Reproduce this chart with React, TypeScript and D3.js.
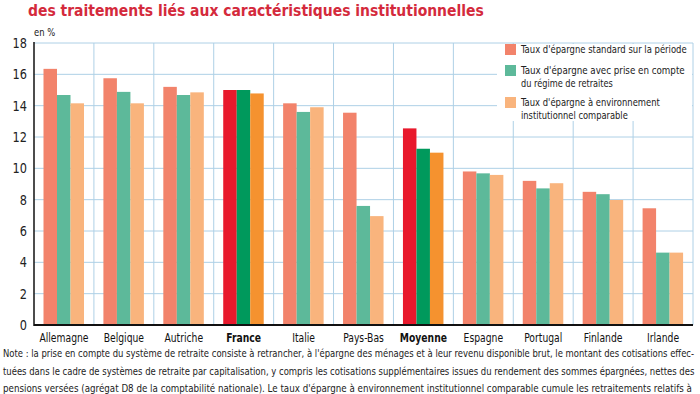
import React from "react";
import * as d3 from "d3";

const categories = ["Allemagne", "Belgique", "Autriche", "France", "Italie", "Pays-Bas", "Moyenne", "Espagne", "Portugal", "Finlande", "Irlande"];
const highlighted = ["France", "Moyenne"];
const seriesNames = [
  ["Taux d'épargne standard sur la période"],
  ["Taux d'épargne avec prise en compte", "du régime de retraites"],
  ["Taux d'épargne à environnement", "institutionnel comparable"],
];
const standard = [16.35, 15.75, 15.2, 15.0, 14.15, 13.55, 12.55, 9.8, 9.2, 8.5, 7.45];
const retraites = [14.68, 14.88, 14.68, 15.0, 13.6, 7.6, 11.25, 9.68, 8.72, 8.35, 4.62];
const comparable = [14.15, 14.15, 14.85, 14.78, 13.9, 6.95, 11.0, 9.58, 9.05, 7.98, 4.62];
const yTicks = [0, 2, 4, 6, 8, 10, 12, 14, 16, 18];
const title = "des traitements liés aux caractéristiques institutionnelles";
const noteLines = [
  "Note : la prise en compte du système de retraite consiste à retrancher, à l'épargne des ménages et à leur revenu disponible brut, le montant des cotisations effec-",
  "tuées dans le cadre de systèmes de retraite par capitalisation, y compris les cotisations supplémentaires issues du rendement des sommes épargnées, nettes des",
  "pensions versées (agrégat D8 de la comptabilité nationale). Le taux d'épargne à environnement institutionnel comparable cumule les retraitements relatifs à",
];

const normalColors = ["#F2836B", "#5DB99A", "#F9B47D"];
const highColors = ["#E8192C", "#00995C", "#F5922F"];
const gridColor = "#AED0E6";
const narrow = "'DejaVu Sans Condensed', 'Liberation Sans Narrow', sans-serif";

let ctx: CanvasRenderingContext2D | null = null;
function measure(text: string, size: number, bold = false): number {
  if (!ctx) ctx = document.createElement("canvas").getContext("2d");
  if (!ctx) return text.length * size * 0.5;
  ctx.font = `${bold ? "bold " : ""}${size}px 'DejaVu Sans Condensed', sans-serif`;
  return ctx.measureText(text).width;
}

function NText(props: { x: number; y: number; sx?: number; fit?: number; anchor?: string; size: number; bold?: boolean; children: string; fill?: string }) {
  const sx = props.fit ? props.fit / measure(props.children, props.size, props.bold) : props.sx || 1;
  return (
    <text
      transform={`translate(${props.x},${props.y}) scale(${sx},1)`}
      textAnchor={props.anchor || "start"}
      fontFamily={narrow}
      fontSize={props.size}
      fontWeight={props.bold ? "bold" : "normal"}
      fill={props.fill || "#222"}
    >
      {props.children}
    </text>
  );
}

export default function App() {
  const W = 700, H = 394;
  const left = 34, right = 693, top = 43, bottom = 325;
  const x = d3.scaleBand<string>().domain(categories).range([left, right]).padding(0);
  const inner = d3.scaleBand<number>().domain([0, 1, 2]).range([9.5, 50]).padding(0);
  const y = d3.scaleLinear().domain([0, 18]).range([bottom, top]);
  const series = [standard, retraites, comparable];
  const boundaries = d3.range(1, categories.length + 1).map((i) => left + i * x.step());
  const legendLens = [[166], [164, 92], [139, 107]];

  return (
    <svg width={W} height={H} style={{ position: "absolute", left: 0, top: 0, background: "#fff" }}>
      <rect x={0} y={0} width={W} height={H} fill="#fff" />
      <NText x={28} y={16} fit={456} size={16} bold fill="#D42A3C">{title}</NText>
      <NText x={34} y={36} sx={0.85} size={11}>en %</NText>
      {/* grid */}
      {yTicks.map((t) => (
        <line key={"h" + t} x1={left} x2={right} y1={y(t)} y2={y(t)} stroke={gridColor} strokeWidth={1} />
      ))}
      {boundaries.map((b, i) => (
        <line key={"v" + i} x1={b} x2={b} y1={top} y2={bottom} stroke={gridColor} strokeWidth={1} />
      ))}
      {/* bars */}
      {categories.map((c, ci) => {
        const hi = highlighted.includes(c);
        return series.map((s, si) => (
          <rect
            key={c + si}
            x={(x(c) as number) + (inner(si) as number)}
            y={y(s[ci])}
            width={inner.bandwidth()}
            height={bottom - y(s[ci])}
            fill={hi ? highColors[si] : normalColors[si]}
          />
        ));
      })}
      {/* axes */}
      <line x1={left} x2={left} y1={top - 1} y2={bottom + 1} stroke="#111" strokeWidth={1.5} />
      <line x1={left} x2={right} y1={bottom} y2={bottom} stroke="#111" strokeWidth={2} />
      {yTicks.map((t) => (
        <NText key={"yt" + t} x={27} y={y(t) + 5} sx={0.9} anchor="end" size={14}>{String(t)}</NText>
      ))}
      {categories.map((c) => (
        <NText key={"xl" + c} x={(x(c) as number) + x.bandwidth() / 2} y={342} sx={0.82} anchor="middle" size={12.5} bold={highlighted.includes(c)} fill="#111">{c}</NText>
      ))}
      {/* legend */}
      <rect x={497} y={44} width={195} height={77} fill="#fff" />
      {seriesNames.map((lines, i) => {
        const sy = [44, 65, 97][i];
        return (
          <g key={"lg" + i}>
            <rect x={505} y={sy} width={11} height={11} fill={normalColors[i]} />
            {lines.map((l, li) => (
              <NText key={li} x={521} y={sy + 9 + li * 13} fit={legendLens[i][li]} size={11}>{l}</NText>
            ))}
          </g>
        );
      })}
      {/* note */}
      {noteLines.map((l, i) => (
        <NText key={"n" + i} x={3} y={357 + i * 17.5} fit={i === 2 ? 690 : 692} size={11}>{l}</NText>
      ))}
    </svg>
  );
}
